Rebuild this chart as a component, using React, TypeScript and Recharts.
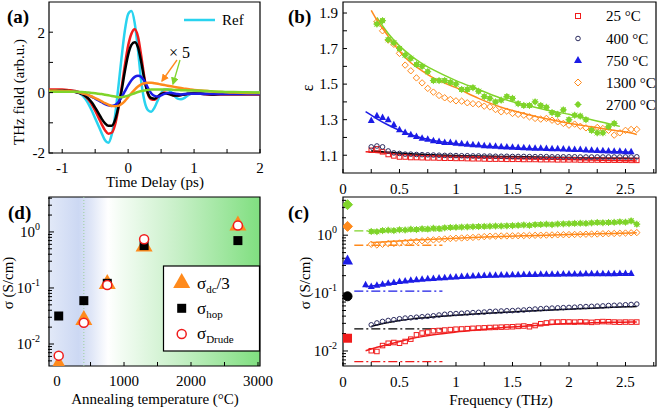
import React from 'react';
import { ComposedChart, Line, Scatter, XAxis, YAxis, ReferenceArea, ReferenceLine } from 'recharts';

const W = 661;
const H = 410;
const FONT = '"Liberation Serif", "Times New Roman", serif';

const RED = '#f01c1c';
const BLACK = '#000000';
const NAVY = '#2a2a5e';
const BLUE = '#1c1ce6';
const ORANGE = '#ff8a1c';
const GREEN = '#7fd42a';
const CYAN = '#29d3ef';

// ---- (a) time-domain waveforms ----
const TIME = [
  -1.2, -1.1, -1.0, -0.9, -0.8, -0.75, -0.7, -0.65, -0.6, -0.55,
  -0.5, -0.45, -0.4, -0.35, -0.3, -0.25, -0.2, -0.15, -0.1, -0.05,
  0, 0.05, 0.1, 0.15, 0.2, 0.25, 0.3, 0.35, 0.4, 0.45,
  0.5, 0.55, 0.6, 0.65, 0.7, 0.75, 0.8, 0.85, 0.9, 0.95,
  1.0, 1.1, 1.2, 1.3, 1.4, 1.5, 1.6, 1.8, 2.0,
];
const E_REF = [
  0.05, 0.07, 0.08, 0.08, 0.04, 0.0, -0.08, -0.2, -0.38, -0.6,
  -0.85, -1.1, -1.35, -1.58, -1.66, -1.4, -0.8, 0.15, 1.15, 2.05,
  2.6, 2.7, 2.3, 1.4, 0.35, -0.3, -0.58, -0.63, -0.5, -0.25,
  -0.02, 0.1, 0.1, 0.02, -0.1, -0.2, -0.22, -0.18, -0.1, -0.04,
  0.0, 0.0, -0.05, -0.05, -0.02, -0.03, -0.02, -0.01, 0,
];
const E_25 = [
  0.1, 0.1, 0.1, 0.08, 0.05, 0.02, -0.04, -0.12, -0.24, -0.4,
  -0.6, -0.82, -1.05, -1.25, -1.36, -1.33, -1.08, -0.55, 0.15, 0.9,
  1.55, 1.95, 2.1, 1.85, 1.2, 0.45, -0.05, -0.22, -0.24, -0.15,
  -0.05, 0.0, -0.02, -0.06, -0.1, -0.1, -0.08, -0.06, -0.05, -0.04,
  -0.03, -0.04, -0.06, -0.07, -0.06, -0.06, -0.06, -0.06, -0.06,
];
const E_400 = [
  0.08, 0.08, 0.07, 0.05, 0.02, -0.01, -0.05, -0.11, -0.2, -0.33,
  -0.5, -0.68, -0.87, -1.02, -1.1, -1.1, -0.92, -0.5, 0.05, 0.7,
  1.25, 1.58, 1.67, 1.5, 1.0, 0.4, -0.02, -0.18, -0.2, -0.13,
  -0.05, -0.02, -0.04, -0.07, -0.1, -0.1, -0.08, -0.06, -0.04, -0.03,
  -0.03, -0.04, -0.05, -0.06, -0.05, -0.05, -0.05, -0.05, -0.05,
];
const E_750 = [
  0.05, 0.05, 0.05, 0.04, 0.03, 0.01, -0.02, -0.05, -0.09, -0.14,
  -0.2, -0.26, -0.32, -0.38, -0.42, -0.44, -0.41, -0.32, -0.16, 0.04,
  0.24, 0.41, 0.52, 0.56, 0.52, 0.37, 0.16, -0.02, -0.11, -0.13,
  -0.09, -0.04, -0.01, -0.01, -0.03, -0.05, -0.06, -0.05, -0.04, -0.04,
  -0.04, -0.04, -0.05, -0.05, -0.05, -0.05, -0.05, -0.05, -0.05,
];
const E_1300 = [
  0.07, 0.07, 0.06, 0.05, 0.03, 0.01, -0.02, -0.05, -0.09, -0.13,
  -0.18, -0.23, -0.29, -0.35, -0.4, -0.44, -0.45, -0.44, -0.38, -0.28,
  -0.15, -0.02, 0.1, 0.2, 0.27, 0.31, 0.33, 0.33, 0.31, 0.29,
  0.27, 0.25, 0.23, 0.21, 0.19, 0.17, 0.15, 0.13, 0.12, 0.1,
  0.09, 0.07, 0.05, 0.03, 0.02, 0.01, 0.0, -0.01, -0.01,
];
const E_2700 = [
  0.03, 0.03, 0.03, 0.03, 0.03, 0.02, 0.02, 0.01, 0.0, -0.01,
  -0.02, -0.04, -0.05, -0.07, -0.09, -0.11, -0.13, -0.15, -0.15, -0.13,
  -0.1, -0.06, -0.02, 0.02, 0.05, 0.07, 0.09, 0.1, 0.1, 0.1,
  0.1, 0.1, 0.1, 0.1, 0.09, 0.09, 0.08, 0.08, 0.07, 0.07,
  0.07, 0.06, 0.05, 0.04, 0.03, 0.02, 0.02, 0.01, 0.0,
];

// ---- (b)/(c) frequency grid for measured points ----
const FREQ = [
  0.2, 0.25, 0.3, 0.35, 0.4, 0.45, 0.5, 0.55, 0.6, 0.65,
  0.7, 0.75, 0.8, 0.85, 0.9, 0.95, 1.0, 1.05, 1.1, 1.15,
  1.2, 1.25, 1.3, 1.35, 1.4, 1.45, 1.5, 1.55, 1.6, 1.65,
  1.7, 1.75, 1.8, 1.85, 1.9, 1.95, 2.0, 2.05, 2.1, 2.15,
  2.2, 2.25, 2.3, 2.35, 2.4, 2.45, 2.5, 2.55, 2.6,
];
// fit curves grid
const FIT_F = [0.2, 0.25, 0.3, 0.4, 0.5, 0.6, 0.7, 0.8, 1.0, 1.2, 1.4, 1.6, 1.8, 2.0, 2.2, 2.4, 2.45, 2.55, 2.6];

// (b) permittivity
const EPS_25 = [
  null, 1.128, 1.136, 1.119, 1.104, 1.096, 1.09, 1.09, 1.087, 1.087,
  1.086, 1.085, 1.085, 1.084, 1.083, 1.083, 1.082, 1.082, 1.081, 1.08,
  1.08, 1.079, 1.078, 1.078, 1.078, 1.077, 1.077, 1.077, 1.076, 1.076,
  1.076, 1.075, 1.075, 1.075, 1.074, 1.074, 1.074, 1.074, 1.073, 1.073,
  1.073, 1.073, 1.072, 1.072, 1.072, 1.072, 1.072, 1.071, 1.071,
];
const EPS_400 = [
  null, 1.147, 1.152, 1.147, 1.124, 1.113, 1.11, 1.106, 1.106, 1.104,
  1.103, 1.102, 1.101, 1.1, 1.099, 1.099, 1.098, 1.097, 1.097, 1.096,
  1.096, 1.095, 1.095, 1.094, 1.094, 1.094, 1.093, 1.093, 1.093, 1.092,
  1.092, 1.092, 1.092, 1.091, 1.091, 1.091, 1.091, 1.091, 1.09, 1.09,
  1.09, 1.09, 1.09, 1.09, 1.09, 1.09, 1.09, 1.09, 1.091,
];
const EPS_750 = [
  null, 1.293, 1.32, 1.31, 1.297, 1.269, 1.241, 1.226, 1.213, 1.203,
  1.194, 1.188, 1.18, 1.175, 1.17, 1.17, 1.166, 1.162, 1.16, 1.157,
  1.155, 1.152, 1.15, 1.148, 1.146, 1.145, 1.143, 1.142, 1.14, 1.139,
  1.138, 1.137, 1.136, 1.135, 1.134, 1.133, 1.132, 1.131, 1.13, 1.128,
  1.126, 1.125, 1.123, 1.122, 1.121, 1.12, 1.118, 1.117, null,
];
const EPS_1300 = [
  null, null, 1.851, 1.8, 1.748, 1.724, 1.673, 1.607, 1.575, 1.535,
  1.507, 1.476, 1.455, 1.436, 1.423, 1.414, 1.406, 1.404, 1.395, 1.39,
  1.387, 1.376, 1.372, 1.357, 1.344, 1.348, 1.335, 1.33, 1.325, 1.316,
  1.307, 1.303, 1.307, 1.297, 1.288, 1.279, 1.269, 1.275, 1.263, 1.254,
  1.245, 1.256, 1.25, 1.24, 1.213, 1.226, 1.24, 1.245, 1.245,
];
const EPS_2700 = [
  null, null, 1.838, 1.857, 1.75, 1.733, 1.7, 1.663, 1.645, 1.61,
  1.6, 1.57, 1.52, 1.52, 1.52, 1.51, 1.5, 1.47, 1.47, 1.48,
  1.46, 1.43, 1.42, 1.4, 1.41, 1.43, 1.42, 1.39, 1.38, 1.38,
  1.4, 1.38, 1.37, 1.34, 1.33, 1.355, 1.3, 1.325, 1.32, 1.3,
  1.24, 1.226, 1.226, 1.26, 1.279, null, null, null, null,
];
const FIT_EPS_25 = [1.12, 1.118, 1.116, 1.111, 1.106, 1.102, 1.098, 1.095, 1.09, 1.086, 1.083, 1.08, 1.078, 1.076, 1.073, 1.071, 1.07, 1.069, 1.068];
const FIT_EPS_400 = [null, 1.125, 1.122, 1.117, 1.112, 1.108, 1.105, 1.102, 1.098, 1.095, 1.093, 1.091, 1.089, 1.087, 1.085, 1.083, 1.083, 1.082, 1.081];
const FIT_EPS_750 = [1.345, 1.325, 1.305, 1.27, 1.24, 1.215, 1.197, 1.183, 1.165, 1.153, 1.145, 1.138, 1.132, 1.127, 1.123, 1.12, 1.119, 1.117, null];
const FIT_EPS_1300 = [null, 1.915, 1.86, 1.77, 1.685, 1.62, 1.575, 1.535, 1.48, 1.42, 1.37, 1.335, 1.305, 1.28, 1.26, 1.24, 1.236, 1.225, 1.217];
const FIT_EPS_2700 = [null, null, 1.875, 1.785, 1.715, 1.66, 1.615, 1.58, 1.52, 1.47, 1.42, 1.385, 1.355, 1.33, 1.3, 1.27, 1.262, null, null];

// (c) conductivity
const SIG_25 = [
  null, 0.0101, 0.0098, 0.0124, 0.0136, 0.014, 0.0136, 0.0146, 0.016, 0.019,
  0.0204, 0.0212, 0.0223, 0.0226, 0.023, 0.0234, 0.0238, 0.024, 0.0243, 0.0246,
  0.0249, 0.0251, 0.0254, 0.0256, 0.0258, 0.026, 0.0262, 0.0266, 0.027, 0.0262,
  0.0275, 0.0295, 0.0305, 0.0315, 0.0316, 0.0318, 0.0317, 0.0315, 0.0318, 0.0316,
  0.0312, 0.0318, 0.0322, 0.032, 0.0316, 0.0314, 0.0316, 0.0315, 0.0316,
];
const SIG_400 = [
  null, 0.0283, 0.0305, 0.0324, 0.0337, 0.0347, 0.036, 0.037, 0.0375, 0.0383,
  0.039, 0.0398, 0.0405, 0.0418, 0.043, 0.044, 0.0443, 0.0448, 0.0455, 0.046,
  0.0465, 0.047, 0.048, 0.0485, 0.049, 0.0495, 0.0498, 0.0505, 0.051, 0.052,
  0.053, 0.0537, 0.0545, 0.055, 0.0555, 0.056, 0.0565, 0.057, 0.058, 0.0585,
  0.059, 0.0595, 0.06, 0.061, 0.0615, 0.062, 0.0628, 0.0635, 0.0646,
];
const SIG_750 = [
  0.137, 0.128, 0.135, 0.14, 0.146, 0.15, 0.157, 0.16, 0.165, 0.168,
  0.171, 0.174, 0.177, 0.179, 0.182, 0.185, 0.188, 0.19, 0.192, 0.194,
  0.196, 0.198, 0.2, 0.201, 0.202, 0.203, 0.204, 0.205, 0.206, 0.206,
  0.207, 0.208, 0.208, 0.209, 0.209, 0.21, 0.21, 0.211, 0.211, 0.212,
  0.212, 0.213, 0.213, 0.214, 0.214, 0.215, 0.215, 0.216, null,
];
const SIG_1300 = [
  null, 0.697, 0.678, 0.697, 0.717, 0.72, 0.735, 0.75, 0.77, 0.785,
  0.8, 0.815, 0.83, 0.845, 0.86, 0.876, 0.885, 0.895, 0.905, 0.915,
  0.93, 0.945, 0.96, 0.965, 0.97, 0.972, 0.975, 0.98, 0.985, 0.99,
  0.995, 1.0, 1.005, 1.01, 1.015, 1.02, 1.025, 1.03, 1.035, 1.04,
  1.045, 1.05, 1.06, 1.065, 1.07, 1.08, 1.09, 1.1, 1.11,
];
const SIG_2700 = [
  null, 1.16, 1.15, 1.2, 1.22, 1.2, 1.24, 1.23, 1.27, 1.25,
  1.29, 1.28, 1.32, 1.3, 1.34, 1.36, 1.37, 1.38, 1.39, 1.4,
  1.41, 1.42, 1.43, 1.44, 1.44, 1.45, 1.46, 1.48, 1.5, 1.48,
  1.52, 1.53, 1.55, 1.52, 1.56, 1.57, 1.58, 1.6, 1.61, 1.6,
  1.63, 1.66, 1.64, 1.66, 1.67, 1.7, 1.68, 1.77, 1.55,
];
const FIT_SIG_25 = [0.0101, 0.0108, 0.0116, 0.013, 0.0145, 0.0162, 0.0177, 0.019, 0.0212, 0.0232, 0.0252, 0.0268, 0.0285, 0.0298, 0.0306, 0.0312, 0.0313, 0.0316, 0.0318];
const FIT_SIG_400 = [null, 0.0266, 0.0282, 0.031, 0.0335, 0.0355, 0.0372, 0.0388, 0.0414, 0.0438, 0.0462, 0.0485, 0.0507, 0.0527, 0.0548, 0.0568, 0.0573, 0.0583, 0.0588];
const FIT_SIG_750 = [0.128, 0.132, 0.136, 0.145, 0.153, 0.161, 0.167, 0.173, 0.182, 0.19, 0.196, 0.202, 0.206, 0.209, 0.212, 0.214, 0.215, 0.216, null];
const FIT_SIG_1300 = [null, 0.745, 0.755, 0.775, 0.795, 0.815, 0.835, 0.855, 0.89, 0.92, 0.95, 0.975, 1.0, 1.025, 1.05, 1.075, 1.08, 1.095, 1.105];
const FIT_SIG_2700 = [null, 1.13, 1.15, 1.18, 1.21, 1.24, 1.265, 1.29, 1.335, 1.38, 1.42, 1.46, 1.5, 1.54, 1.58, 1.62, 1.63, 1.65, 1.66];
// dash-dot (hopping) levels and dc markers
const DD_F = [0.1, 0.88];
const HOP_LEVEL = { t25: 0.00652, t400: 0.0241, t750: 0.108, t1300: 0.67, t2700: 1.19 };
const DC_F = 0.04;
const DC_LEVEL = { t25: 0.0166, t400: 0.088, t750: 0.357, t1300: 1.42, t2700: 3.37 };

// ---- (d) vs annealing temperature ----
const TEMPS = [25, 400, 750, 1300, 2700];
const SIG_DC3 = [0.0042, 0.0268, 0.118, 0.55, 1.3];
const SIG_HOP = [0.0316, 0.0594, 0.121, 0.57, 0.7];
const SIG_DRUDE = [0.0062, 0.024, 0.113, 0.74, 1.3];

const LEGEND_B = ['25 °C', '400 °C', '750 °C', '1300 °C', '2700 °C'];

const F_TICKS = [0, 0.25, 0.5, 0.75, 1, 1.25, 1.5, 1.75, 2, 2.25, 2.5, 2.75];
const LOG_MINOR = [0.005, 0.006, 0.007, 0.008, 0.009, 0.02, 0.03, 0.04, 0.05, 0.06, 0.07, 0.08, 0.09, 0.2, 0.3, 0.4, 0.5, 0.6, 0.7, 0.8, 0.9, 2, 3, 4];

const xy = (xs: number[], ys: (number | null)[]) =>
  xs.map((x, i) => ({ x, y: ys[i] })).filter((p) => p.y !== null && p.y !== undefined);
const flat = (xs: number[], v: number) => xs.map((x) => ({ x, y: v }));

type Box = { left: number; top: number; right: number; bottom: number };
// every axis is 1px thick (zero-sized axes are not drawn), so take them off the margins
const margin = (b: Box, nLeft: number, nTop: number) => ({
  left: b.left - nLeft,
  top: b.top - nTop,
  right: W - b.right,
  bottom: H - b.bottom - 1,
});

const tickStyle = { fontFamily: FONT, fontSize: 15, fill: '#000' };

// marker shapes
const openSquare = (c: string, s: number) => (p: any) => (
  <rect x={p.cx - s / 2} y={p.cy - s / 2} width={s} height={s} fill="none" stroke={c} strokeWidth={1} />
);
const openCircle = (c: string, r: number, fill = 'none', sw = 1) => (p: any) => (
  <circle cx={p.cx} cy={p.cy} r={r} fill={fill} stroke={c} strokeWidth={sw} />
);
const triangle = (c: string, w: number, h: number) => (p: any) => (
  <polygon
    points={`${p.cx},${p.cy - (h * 2) / 3} ${p.cx - w / 2},${p.cy + h / 3} ${p.cx + w / 2},${p.cy + h / 3}`}
    fill={c}
  />
);
const diamond = (c: string, s: number, filled: boolean) => (p: any) => (
  <polygon
    points={`${p.cx},${p.cy - s} ${p.cx + s},${p.cy} ${p.cx},${p.cy + s} ${p.cx - s},${p.cy}`}
    fill={filled ? c : 'none'}
    stroke={c}
    strokeWidth={1}
  />
);
const asterisk = (c: string) => (p: any) => (
  <g stroke={c} strokeWidth={1}>
    <circle cx={p.cx} cy={p.cy} r={2.3} fill={c} />
    <line x1={p.cx - 3.5} y1={p.cy} x2={p.cx + 3.5} y2={p.cy} />
    <line x1={p.cx} y1={p.cy - 3.5} x2={p.cx} y2={p.cy + 3.5} />
    <line x1={p.cx - 2.6} y1={p.cy - 2.6} x2={p.cx + 2.6} y2={p.cy + 2.6} />
    <line x1={p.cx - 2.6} y1={p.cy + 2.6} x2={p.cx + 2.6} y2={p.cy - 2.6} />
  </g>
);
const filledSquare = (c: string, s: number) => (p: any) => (
  <rect x={p.cx - s / 2} y={p.cy - s / 2} width={s} height={s} fill={c} />
);

function PowTick(props: any) {
  const { x, y, payload } = props;
  const e = Math.round(Math.log10(payload.value));
  return (
    <text x={x} y={y + 5} textAnchor="end" fontFamily={FONT} fontSize={15} fill="#000">
      10<tspan dy={-7} fontSize={10}>{e}</tspan>
    </text>
  );
}

const freqLabel = (v: number) => (v % 0.5 === 0 ? String(v) : '');

// ---------- (a) ----------
const BOX_A: Box = { left: 49, top: 2, right: 260, bottom: 153 };
function PanelA() {
  const series = [
    { d: E_REF, c: CYAN },
    { d: E_25, c: RED },
    { d: E_400, c: BLACK },
    { d: E_750, c: BLUE },
    { d: E_1300, c: ORANGE },
    { d: E_2700, c: GREEN },
  ];
  return (
    <ComposedChart width={W} height={H} margin={margin(BOX_A, 1, 0)}>
      <XAxis dataKey="x" type="number" domain={[-1.2, 2]} allowDataOverflow ticks={[-1, -0.5, 0, 0.5, 1, 1.5, 2]}
        tickFormatter={(v) => (Number.isInteger(v) ? String(v) : '')} interval={0} height={1} axisLine={false}
        tickSize={-4} tickMargin={13} stroke="#000" tick={tickStyle} />
      <YAxis dataKey="y" type="number" domain={[-2, 3]} allowDataOverflow ticks={[-2, -1, 0, 1, 2]}
        tickFormatter={(v) => (v % 2 === 0 ? String(v) : '')} interval={0} width={1} axisLine={false}
        tickSize={-4} tickMargin={8} stroke="#000" tick={tickStyle} />
      {series.map((s, i) => (
        <Line key={i} data={xy(TIME, s.d)} dataKey="y" type="monotone" stroke={s.c} strokeWidth={2.5}
          dot={false} isAnimationActive={false} />
      ))}
      <ReferenceArea x1={-1.2} x2={2} y1={-2} y2={3} fill="none" stroke="#000" strokeWidth={1.2} ifOverflow="visible" />
    </ComposedChart>
  );
}

// ---------- (b) ----------
const BOX_B: Box = { left: 343, top: 2, right: 656, bottom: 173 };
function PanelB() {
  const fits = [
    { d: FIT_EPS_25, c: RED },
    { d: FIT_EPS_400, c: BLACK },
    { d: FIT_EPS_750, c: BLUE },
    { d: FIT_EPS_1300, c: ORANGE },
    { d: FIT_EPS_2700, c: GREEN },
  ];
  return (
    <ComposedChart width={W} height={H} margin={margin(BOX_B, 1, 1)}>
      <XAxis dataKey="x" type="number" domain={[0, 2.77]} allowDataOverflow ticks={F_TICKS} tickFormatter={freqLabel}
        interval={0} height={1} axisLine={false} tickSize={-4} tickMargin={14} stroke="#000" tick={tickStyle} />
      <XAxis xAxisId="top" orientation="top" type="number" domain={[0, 2.77]} ticks={F_TICKS} tickFormatter={() => ''}
        interval={0} height={1} axisLine={false} tickSize={-4} stroke="#000" />
      <YAxis dataKey="y" type="number" domain={[1.0, 1.962]} allowDataOverflow
        ticks={[1.1, 1.2, 1.3, 1.4, 1.5, 1.6, 1.7, 1.8, 1.9]}
        tickFormatter={(v) => (Math.round(v * 10) % 2 === 1 ? v.toFixed(1) : '')} interval={0} width={1}
        axisLine={false} tickSize={-4} tickMargin={9} stroke="#000" tick={tickStyle} />
      <Scatter data={xy(FREQ, EPS_25)} shape={openSquare(RED, 4.5)} isAnimationActive={false} />
      <Scatter data={xy(FREQ, EPS_400)} shape={openCircle(NAVY, 2.3)} isAnimationActive={false} />
      <Scatter data={xy(FREQ, EPS_750)} shape={triangle(BLUE, 7, 6.5)} isAnimationActive={false} />
      <Scatter data={xy(FREQ, EPS_1300)} shape={diamond(ORANGE, 3.2, false)} isAnimationActive={false} />
      <Scatter data={xy(FREQ, EPS_2700)} shape={asterisk(GREEN)} isAnimationActive={false} />
      {fits.map((s, i) => (
        <Line key={i} data={xy(FIT_F, s.d)} dataKey="y" type="monotone" stroke={s.c} strokeWidth={1.5}
          dot={false} isAnimationActive={false} />
      ))}
      <ReferenceArea x1={0} x2={2.77} y1={1.0} y2={1.962} fill="none" stroke="#000" strokeWidth={1.2} ifOverflow="visible" />
    </ComposedChart>
  );
}

// ---------- (c) ----------
const BOX_C: Box = { left: 343, top: 197, right: 656, bottom: 366 };
const DOM_C = [0.0055, 4.57];
function PanelC() {
  const fits = [
    { d: FIT_SIG_25, c: RED },
    { d: FIT_SIG_400, c: BLACK },
    { d: FIT_SIG_750, c: BLUE },
    { d: FIT_SIG_1300, c: ORANGE },
    { d: FIT_SIG_2700, c: GREEN },
  ];
  const hops = [
    { v: HOP_LEVEL.t25, c: RED },
    { v: HOP_LEVEL.t400, c: BLACK },
    { v: HOP_LEVEL.t750, c: BLUE },
    { v: HOP_LEVEL.t1300, c: ORANGE },
    { v: HOP_LEVEL.t2700, c: GREEN },
  ];
  return (
    <ComposedChart width={W} height={H} margin={margin(BOX_C, 2, 1)}>
      <XAxis dataKey="x" type="number" domain={[0, 2.77]} allowDataOverflow ticks={F_TICKS} tickFormatter={freqLabel}
        interval={0} height={1} axisLine={false} tickSize={-4} tickMargin={14} stroke="#000" tick={tickStyle} />
      <XAxis xAxisId="top" orientation="top" type="number" domain={[0, 2.77]} ticks={F_TICKS} tickFormatter={() => ''}
        interval={0} height={1} axisLine={false} tickSize={-4} stroke="#000" />
      <YAxis dataKey="y" type="number" scale="log" domain={DOM_C} allowDataOverflow ticks={[0.01, 0.1, 1]}
        tick={<PowTick />} interval={0} width={1} axisLine={false} tickSize={-5} tickMargin={11} stroke="#000" />
      <YAxis yAxisId="m" type="number" scale="log" domain={DOM_C} allowDataOverflow ticks={LOG_MINOR.filter((v) => v > DOM_C[0] && v < DOM_C[1])}
        tickFormatter={() => ''} interval={0} width={1} axisLine={false} tickSize={-4} stroke="#000" />
      {hops.map((s, i) => (
        <Line key={'h' + i} data={flat(DD_F, s.v)} dataKey="y" stroke={s.c} strokeWidth={1.3} strokeDasharray="9 3 2 3"
          dot={false} isAnimationActive={false} />
      ))}
      {fits.map((s, i) => (
        <Line key={'f' + i} data={xy(FIT_F, s.d)} dataKey="y" type="monotone" stroke={s.c} strokeWidth={1.5}
          dot={false} isAnimationActive={false} />
      ))}
      <Scatter data={xy(FREQ, SIG_25)} shape={openSquare(RED, 4.5)} isAnimationActive={false} />
      <Scatter data={xy(FREQ, SIG_400)} shape={openCircle(NAVY, 2.3)} isAnimationActive={false} />
      <Scatter data={xy(FREQ, SIG_750)} shape={triangle(BLUE, 7, 6.5)} isAnimationActive={false} />
      <Scatter data={xy(FREQ, SIG_1300)} shape={diamond(ORANGE, 3.2, false)} isAnimationActive={false} />
      <Scatter data={xy(FREQ, SIG_2700)} shape={asterisk(GREEN)} isAnimationActive={false} />
      <Scatter data={[{ x: DC_F, y: DC_LEVEL.t25 }]} shape={filledSquare(RED, 9)} isAnimationActive={false} />
      <Scatter data={[{ x: DC_F, y: DC_LEVEL.t400 }]} shape={openCircle(BLACK, 4.5, BLACK)} isAnimationActive={false} />
      <Scatter data={[{ x: DC_F, y: DC_LEVEL.t750 }]} shape={triangle(BLUE, 11, 10)} isAnimationActive={false} />
      <Scatter data={[{ x: DC_F, y: DC_LEVEL.t1300 }]} shape={diamond(ORANGE, 5, true)} isAnimationActive={false} />
      <Scatter data={[{ x: DC_F, y: DC_LEVEL.t2700 }]} shape={diamond(GREEN, 5, true)} isAnimationActive={false} />
      <ReferenceArea x1={0} x2={2.77} y1={DOM_C[0]} y2={DOM_C[1]} fill="none" stroke="#000" strokeWidth={1.2} ifOverflow="visible" />
    </ComposedChart>
  );
}

// ---------- (d) ----------
const BOX_D: Box = { left: 49, top: 197, right: 260, bottom: 366 };
const DOM_D = [0.00405, 4.2];
function PanelD() {
  return (
    <ComposedChart width={W} height={H} margin={margin(BOX_D, 2, 0)}>
      <XAxis dataKey="x" type="number" domain={[-120, 3030]} allowDataOverflow ticks={[0, 500, 1000, 1500, 2000, 2500, 3000]}
        tickFormatter={(v) => (v % 1000 === 0 ? String(v) : '')} interval={0} height={1} axisLine={false}
        tickSize={-4} tickMargin={13} stroke="#000" tick={tickStyle} />
      <YAxis dataKey="y" type="number" scale="log" domain={DOM_D} allowDataOverflow ticks={[0.01, 0.1, 1]}
        tick={<PowTick />} interval={0} width={1} axisLine={false} tickSize={-5} tickMargin={14} stroke="#000" />
      <YAxis yAxisId="m" type="number" scale="log" domain={DOM_D} allowDataOverflow ticks={LOG_MINOR.filter((v) => v > DOM_D[0] && v < DOM_D[1])}
        tickFormatter={() => ''} interval={0} width={1} axisLine={false} tickSize={-4} stroke="#000" />
      <ReferenceLine x={400} stroke="#9ccf9c" strokeDasharray="1 2" strokeWidth={1} />
      <Scatter data={xy(TEMPS, SIG_DC3)} shape={triangle(ORANGE, 17, 15)} isAnimationActive={false} />
      <Scatter data={xy(TEMPS, SIG_HOP)} shape={filledSquare(BLACK, 9)} isAnimationActive={false} />
      <Scatter data={xy(TEMPS, SIG_DRUDE)} shape={openCircle(RED, 4.5, '#fff', 1.5)} isAnimationActive={false} />
      <ReferenceArea x1={-120} x2={3030} y1={DOM_D[0]} y2={DOM_D[1]} fill="none" stroke="#000" strokeWidth={1.2} ifOverflow="visible" />
    </ComposedChart>
  );
}

function Overlay() {
  const legendB = [
    { m: <rect x={575.5} y={13.5} width={5} height={5} fill="none" stroke={RED} />, y: 16 },
    { m: <circle cx={578} cy={38.5} r={2.3} fill="none" stroke={NAVY} />, y: 38.5 },
    { m: <polygon points="578,56 574,63 582,63" fill={BLUE} />, y: 60.5 },
    { m: <polygon points="578,79 581.5,82.5 578,86 574.5,82.5" fill="none" stroke={ORANGE} />, y: 82.5 },
    {
      m: (
        <g stroke={GREEN}>
          <circle cx={578} cy={104.5} r={2.3} fill={GREEN} />
          <line x1={574.5} y1={104.5} x2={581.5} y2={104.5} />
          <line x1={578} y1={101} x2={578} y2={108} />
        </g>
      ),
      y: 104.5,
    },
  ];
  return (
    <svg width={W} height={H} style={{ position: 'absolute', left: 0, top: 0 }} fontFamily={FONT}>
      <defs>
        <marker id="ahO" markerWidth="6" markerHeight="6" refX="5" refY="3" orient="auto">
          <path d="M0,0 L6,3 L0,6 Z" fill={ORANGE} />
        </marker>
        <marker id="ahG" markerWidth="6" markerHeight="6" refX="5" refY="3" orient="auto">
          <path d="M0,0 L6,3 L0,6 Z" fill={GREEN} />
        </marker>
      </defs>
      {/* panel letters */}
      <text x={7} y={23} fontSize={19} fontWeight="bold">(a)</text>
      <text x={288} y={23} fontSize={19} fontWeight="bold">(b)</text>
      <text x={8} y={219} fontSize={19} fontWeight="bold">(d)</text>
      <text x={288} y={219} fontSize={19} fontWeight="bold">(c)</text>
      {/* axis titles */}
      <text transform="translate(24,92) rotate(-90)" textAnchor="middle" fontSize={15}>THz field (arb.u.)</text>
      <text x={155} y={187} textAnchor="middle" fontSize={15}>Time Delay (ps)</text>
      <text transform="translate(313,88) rotate(-90)" textAnchor="middle" fontSize={16}>ε</text>
      <text transform="translate(310,283) rotate(-90)" textAnchor="middle" fontSize={15}>σ (S/cm)</text>
      <text transform="translate(13,283) rotate(-90)" textAnchor="middle" fontSize={15}>σ (S/cm)</text>
      <text x={155} y={404} textAnchor="middle" fontSize={15}>Annealing temperature (°C)</text>
      <text x={501} y={405} textAnchor="middle" fontSize={15}>Frequency (THz)</text>
      {/* (a) legend and annotation */}
      <line x1={184} y1={20} x2={215} y2={20} stroke={CYAN} strokeWidth={2.5} />
      <text x={222} y={25} fontSize={15}>Ref</text>
      <text x={169} y={58} fontSize={16}>× 5</text>
      <line x1={177} y1={60} x2={162} y2={81} stroke={ORANGE} strokeWidth={1.3} markerEnd="url(#ahO)" />
      <line x1={180} y1={60} x2={173} y2={84} stroke={GREEN} strokeWidth={1.3} markerEnd="url(#ahG)" />
      {/* (b) legend */}
      {legendB.map((r, i) => (
        <g key={i}>
          {r.m}
          <text x={606} y={r.y + 5} fontSize={15}>{LEGEND_B[i]}</text>
        </g>
      ))}
      {/* (d) legend */}
      <rect x={163.5} y={266} width={96} height={85} fill="#fff" stroke="#000" strokeWidth={1.2} />
      <polygon points="181.7,273 173.2,288 190.2,288" fill={ORANGE} />
      <text x={197} y={289} fontSize={17}>σ<tspan fontSize={11} dy={4}>dc</tspan><tspan dy={-4}>/3</tspan></text>
      <rect x={177.2} y={303.8} width={9} height={9} fill="#000" />
      <text x={197} y={314} fontSize={17}>σ<tspan fontSize={11} dy={4}>hop</tspan></text>
      <circle cx={181.7} cy={334} r={4.5} fill="#fff" stroke={RED} strokeWidth={1.5} />
      <text x={197} y={339} fontSize={17}>σ<tspan fontSize={11} dy={4}>Drude</tspan></text>
    </svg>
  );
}

export default function App() {
  const layer: React.CSSProperties = { position: 'absolute', left: 0, top: 0 };
  return (
    <div style={{ position: 'absolute', left: 0, top: 0, width: W, height: H, background: '#fff', fontFamily: FONT }}>
      <div
        style={{
          position: 'absolute',
          left: BOX_D.left,
          top: BOX_D.top,
          width: BOX_D.right - BOX_D.left,
          height: BOX_D.bottom - BOX_D.top,
          background:
            'linear-gradient(to right, #e2e9f8 0%, #ccd8f3 14%, #dfe6f7 20%, #ffffff 28%, #f3fcf3 34%, #c9f0c9 60%, #80df80 100%)',
        }}
      />
      <div style={layer}><PanelA /></div>
      <div style={layer}><PanelB /></div>
      <div style={layer}><PanelC /></div>
      <div style={layer}><PanelD /></div>
      <Overlay />
    </div>
  );
}
